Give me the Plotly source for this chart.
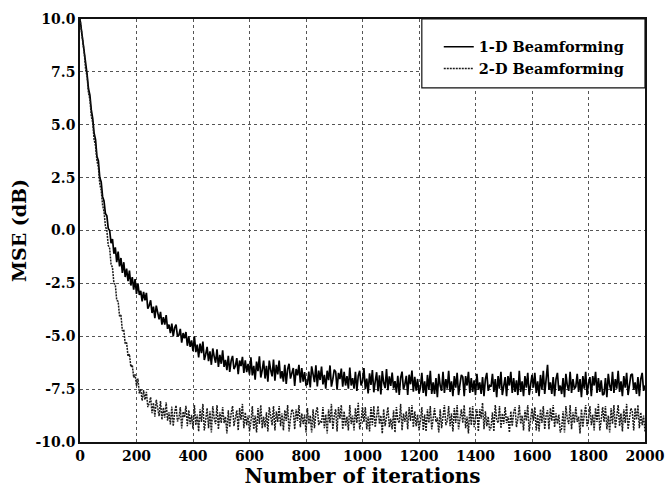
import plotly.graph_objects as go

# ---- data ----
iter_step = 5
iterations = list(range(0, 2001, iter_step))

mse_1d = [
    # 0-100
    10.0, 9.5, 8.8, 8.5, 7.8, 7.4, 6.7, 6.4, 5.7, 5.3, 4.6, 4.3, 3.5, 3.3, 2.5, 2.3, 1.6, 1.4, 0.8, 0.7, 0.1,
    # 105-200
    0.0, -0.6, -0.4, -1.1, -0.8, -1.5, -1.0, -1.7, -1.3, -2.0,
    -1.5, -2.2, -1.8, -2.4, -1.9, -2.6, -2.2, -2.8, -2.3, -3.0,
    # 205-400
    -2.50, -3.05, -2.85, -3.35, -2.90, -3.30, -2.95, -3.70, -3.55, -3.30,
    -3.90, -3.60, -4.15, -3.55, -3.95, -4.20, -3.85, -4.45, -4.10, -4.45,
    -4.00, -4.65, -4.45, -4.85, -4.40, -5.00, -4.60, -4.45, -5.00, -4.95,
    -4.65, -5.30, -4.85, -5.10, -4.80, -5.45, -5.00, -5.50, -5.20, -5.70,
    # 405-600
    -5.00, -5.75, -5.40, -6.00, -5.35, -5.80, -5.25, -6.12, -5.85, -5.50,
    -6.18, -5.71, -6.35, -5.58, -5.96, -6.25, -5.62, -6.45, -5.88, -6.30,
    -5.67, -6.45, -6.12, -6.60, -5.92, -6.69, -6.16, -5.93, -6.55, -6.41,
    -6.03, -6.79, -6.15, -6.41, -5.97, -6.73, -6.14, -6.70, -6.31, -6.82,
    # 605-1000
    -6.00, -6.85, -6.40, -7.05, -6.20, -6.65, -5.95, -6.95, -6.60, -6.15,
    -7.00, -6.40, -7.15, -6.15, -6.60, -6.90, -6.10, -7.10, -6.35, -6.80,
    -6.15, -7.00, -6.65, -7.15, -6.35, -7.25, -6.55, -6.30, -7.00, -6.80,
    -6.50, -7.35, -6.55, -6.85, -6.35, -7.20, -6.50, -7.15, -6.70, -7.30,
    -7.27, -6.67, -7.42, -6.42, -6.87, -7.17, -6.37, -7.37, -6.62, -7.07,
    -6.43, -7.28, -6.83, -7.48, -6.63, -7.08, -6.38, -7.38, -7.03, -6.58,
    -6.68, -7.53, -6.73, -7.03, -6.53, -7.38, -6.68, -7.33, -6.88, -7.48,
    -6.48, -7.33, -6.98, -7.48, -6.68, -7.58, -6.88, -6.63, -7.33, -7.13,
    # 1005-1200
    -6.50, -7.50, -7.00, -7.70, -6.75, -7.30, -6.60, -7.65, -7.15, -6.70,
    -7.60, -6.85, -7.75, -6.65, -7.20, -7.45, -6.55, -7.55, -6.90, -7.35,
    -6.72, -7.47, -7.12, -7.67, -6.87, -7.77, -6.97, -6.67, -7.52, -7.27,
    -6.87, -7.77, -6.82, -7.27, -6.62, -7.62, -6.92, -7.57, -7.02, -7.72,
    # 1205-1600
    -7.43, -6.73, -7.68, -7.13, -7.83, -6.83, -7.53, -6.63, -7.73, -7.18,
    -7.73, -6.98, -7.88, -6.78, -7.33, -7.58, -6.68, -7.68, -7.03, -7.48,
    -6.63, -7.63, -7.13, -7.83, -6.88, -7.43, -6.73, -7.78, -7.28, -6.83,
    -6.93, -7.83, -6.88, -7.33, -6.68, -7.68, -6.98, -7.63, -7.08, -7.78,
    -6.78, -7.53, -7.18, -7.73, -6.93, -7.83, -7.03, -6.73, -7.58, -7.33,
    -7.38, -6.78, -7.63, -7.03, -7.88, -6.88, -7.48, -6.68, -7.78, -7.23,
    -6.93, -7.83, -6.88, -7.33, -6.68, -7.68, -6.98, -7.63, -7.08, -7.78,
    -6.63, -7.63, -7.13, -7.83, -6.88, -7.43, -6.73, -7.78, -7.28, -6.83,
    # 1605-2000
    -7.43, -6.73, -7.68, -7.13, -7.83, -6.83, -7.53, -6.63, -7.73, -7.18,
    -6.35, -7.53, -7.18, -7.73, -6.93, -7.83, -7.03, -6.73, -7.58, -7.33,
    -7.73, -6.98, -7.88, -6.78, -7.33, -7.58, -6.68, -7.68, -7.03, -7.48,
    -7.38, -6.78, -7.63, -7.03, -7.88, -6.88, -7.48, -6.68, -7.78, -7.23,
    -6.93, -7.83, -6.88, -7.33, -6.68, -7.68, -6.98, -7.63, -7.08, -7.78,
    -7.73, -6.98, -7.88, -6.78, -7.33, -7.58, -6.68, -7.68, -7.03, -7.48,
    -6.63, -7.63, -7.13, -7.83, -6.88, -7.43, -6.73, -7.78, -7.28, -6.83,
    -6.78, -7.53, -7.18, -7.73, -6.93, -7.83, -7.03, -6.73, -7.58, -7.33,
]

mse_2d = [
    # 0-100
    10.0, 9.5, 8.8, 8.4, 7.6, 7.3, 6.5, 6.2, 5.4, 5.1, 4.3, 4.0, 3.3, 3.0, 2.2, 1.9, 1.2, 0.9, 0.2, 0.0, -0.7,
    # 105-200
    -0.85, -1.60, -1.75, -2.50, -2.55, -3.30, -3.35, -4.05, -4.00, -4.75,
    -4.70, -5.35, -5.30, -5.95, -5.85, -6.45, -6.35, -6.95, -6.80, -7.35,
    # 205-400
    -7.00, -7.70, -7.50, -8.05, -7.55, -8.00, -7.63, -8.35, -8.17, -7.88,
    -8.64, -8.15, -8.80, -8.00, -8.44, -8.78, -8.07, -8.95, -8.38, -8.85,
    -8.12, -8.99, -8.60, -9.17, -8.33, -9.25, -8.61, -8.27, -9.03, -8.89,
    -8.35, -9.36, -8.57, -8.83, -8.29, -9.25, -8.50, -9.16, -8.72, -9.37,
    # 405-800
    -8.25, -9.20, -8.70, -9.50, -8.45, -9.05, -8.20, -9.45, -8.95, -8.40,
    -9.35, -8.55, -9.55, -8.30, -8.90, -9.15, -8.25, -9.40, -8.60, -9.10,
    -8.35, -9.10, -8.80, -9.60, -8.50, -9.30, -8.65, -8.30, -9.25, -8.95,
    -8.50, -9.45, -8.40, -8.95, -8.20, -9.35, -8.60, -9.20, -8.75, -9.50,
    -9.05, -8.30, -9.40, -8.75, -9.55, -8.40, -9.15, -8.25, -9.35, -8.80,
    -9.30, -8.60, -9.50, -8.35, -8.85, -9.20, -8.30, -9.45, -8.55, -9.05,
    -8.30, -9.25, -8.65, -9.45, -8.50, -9.00, -8.25, -9.50, -8.90, -8.45,
    -8.55, -9.40, -8.45, -9.00, -8.25, -9.30, -8.65, -9.15, -8.70, -9.55,
    # 805-1200
    -8.40, -9.15, -8.75, -9.55, -8.45, -9.35, -8.60, -8.35, -9.20, -9.00,
    -9.10, -8.35, -9.35, -8.70, -9.60, -8.45, -9.10, -8.20, -9.40, -8.75,
    -8.45, -9.50, -8.35, -8.90, -8.25, -9.40, -8.55, -9.25, -8.80, -9.45,
    -8.25, -9.15, -8.75, -9.45, -8.40, -9.10, -8.15, -9.40, -9.00, -8.35,
    -9.05, -8.35, -9.40, -8.80, -9.50, -8.35, -9.20, -8.30, -9.30, -8.85,
    -8.30, -9.15, -8.75, -9.60, -8.45, -9.25, -8.70, -8.35, -9.30, -8.90,
    -9.40, -8.50, -9.55, -8.35, -8.95, -9.10, -8.20, -9.45, -8.65, -9.05,
    -8.55, -9.40, -8.35, -9.00, -8.25, -9.30, -8.55, -9.25, -8.70, -9.45,
    # 1205-1600
    -9.00, -8.35, -9.45, -8.70, -9.50, -8.45, -9.10, -8.30, -9.40, -8.75,
    -8.40, -9.05, -8.85, -9.55, -8.45, -9.35, -8.60, -8.25, -9.20, -9.00,
    -8.30, -9.25, -8.65, -9.50, -8.40, -9.10, -8.25, -9.40, -8.90, -8.45,
    -9.10, -8.25, -9.35, -8.80, -9.60, -8.35, -9.20, -8.30, -9.30, -8.85,
    -8.45, -9.50, -8.45, -8.90, -8.15, -9.40, -8.55, -9.25, -8.80, -9.45,
    -9.30, -8.60, -9.50, -8.25, -8.95, -9.10, -8.30, -9.35, -8.65, -9.15,
    -8.35, -9.10, -8.80, -9.55, -8.55, -9.25, -8.60, -8.35, -9.30, -8.90,
    -8.25, -9.15, -8.75, -9.45, -8.50, -9.00, -8.25, -9.50, -8.90, -8.40,
    # 1605-2000
    -9.00, -8.35, -9.45, -8.70, -9.50, -8.45, -9.10, -8.30, -9.40, -8.75,
    -8.50, -9.40, -8.40, -9.00, -8.25, -9.30, -8.65, -9.15, -8.70, -9.55,
    -9.35, -8.55, -9.55, -8.30, -8.90, -9.15, -8.25, -9.40, -8.60, -9.10,
    -8.35, -9.05, -8.80, -9.60, -8.45, -9.30, -8.70, -8.25, -9.25, -8.95,
    -8.30, -9.20, -8.70, -9.45, -8.40, -9.05, -8.20, -9.45, -8.95, -8.35,
    -9.05, -8.30, -9.40, -8.75, -9.55, -8.40, -9.15, -8.25, -9.35, -8.80,
    -8.25, -9.25, -8.65, -9.50, -8.45, -9.10, -8.20, -9.40, -8.95, -8.40,
    -8.55, -9.45, -8.40, -8.95, -8.25, -9.35, -8.60, -9.20, -8.75, -9.50,
]

x_tick_vals = [0, 200, 400, 600, 800, 1000, 1200, 1400, 1600, 1800, 2000]
x_tick_text = ["0", "200", "400", "600", "800", "1000", "1200", "1400", "1600", "1800", "2000"]
y_tick_vals = [10.0, 7.5, 5.0, 2.5, 0.0, -2.5, -5.0, -7.5, -10.0]
y_tick_text = ["10.0", "7.5", "5.0", "2.5", "0.0", "-2.5", "-5.0", "-7.5", "-10.0"]

series_names = ["1-D Beamforming", "2-D Beamforming"]

FONT = "DejaVu Serif"

fig = go.Figure()
fig.add_trace(go.Scatter(
    x=iterations, y=mse_1d, mode="lines", name=series_names[0],
    line=dict(color="#000000", width=1.7),
))
fig.add_trace(go.Scatter(
    x=iterations, y=mse_2d, mode="lines", name=series_names[1],
    line=dict(color="#1a1a1a", width=1.5, dash="2px,1px"),
))

axis_common = dict(
    showline=True, linecolor="#111", linewidth=1.5, mirror=True,
    showgrid=True, gridcolor="#555", gridwidth=1, griddash="dot",
    zeroline=False, ticks="",
    tickfont=dict(family=FONT, size=14, color="#000", weight="bold"),
)

fig.update_layout(
    width=666, height=491,
    margin=dict(l=80, r=21, t=19, b=49, autoexpand=False),
    paper_bgcolor="white", plot_bgcolor="white",
    font=dict(family=FONT, color="#000"),
    showlegend=True,
    legend=dict(
        x=0.635, y=0.972, xanchor="left", yanchor="top",
        bgcolor="rgba(0,0,0,0)", borderwidth=0,
        font=dict(family=FONT, size=14.5, color="#000", weight="bold"),
        itemwidth=30, tracegroupgap=0,
    ),
    shapes=[dict(
        type="rect", xref="paper", yref="paper",
        x0=0.605, x1=1.0, y0=0.837, y1=1.0,
        line=dict(color="#111", width=1.2), fillcolor="white", layer="above",
    )],
    xaxis=dict(
        range=[0, 2000], tickvals=x_tick_vals, ticktext=x_tick_text,
        title=dict(text="Number of iterations", font=dict(family=FONT, size=20, weight="bold"), standoff=5),
        automargin=False,
        **axis_common,
    ),
    yaxis=dict(
        range=[-10, 10], tickvals=y_tick_vals, ticktext=y_tick_text,
        title=dict(text="MSE (dB)", font=dict(family=FONT, size=19, weight="bold"), standoff=4),
        automargin=False,
        **axis_common,
    ),
)

fig.write_html("out.html")
